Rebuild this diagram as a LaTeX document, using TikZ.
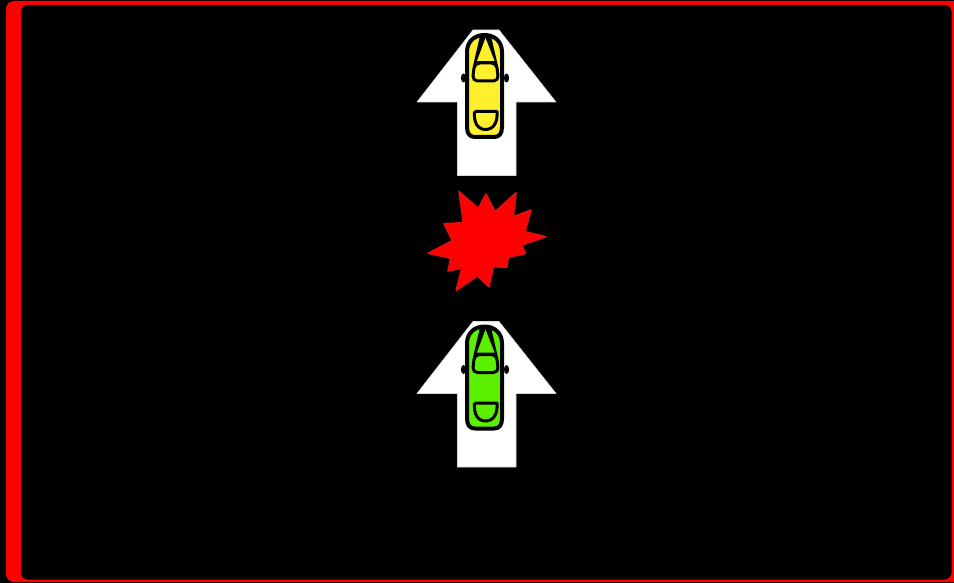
\documentclass[tikz,border=0pt]{standalone}
\definecolor{carYellow}{HTML}{FFF02E}
\definecolor{carGreen}{HTML}{5CF000}
\definecolor{starEdge}{HTML}{E01010}
\tikzset{
  carline/.style={draw=black,line width=3pt,line join=round},
  pics/carrow/.style={code={
    \fill[white,draw=black!15,line width=0.6pt,line join=round] (473,30) -- (499,30) -- (556,102) -- (516,102) -- (516,175.5)
      -- (457.5,175.5) -- (457.5,102) -- (417,102) -- cycle;
    \fill[black] (463.5,78) ellipse (2.6 and 4.5);
    \fill[black] (506.5,78) ellipse (2.6 and 4.5);
    \filldraw[fill=#1,carline,line width=4pt] (467,52) .. controls (467,41) and (475,35) .. (484.5,35)
      .. controls (494,35) and (502,41) .. (502,52) -- (502,127)
      .. controls (502,134) and (499,137) .. (494,137) -- (475,137)
      .. controls (470,137) and (467,134) .. (467,127) -- cycle;
    \fill[black] (480,36) -- (491,36) -- (498,66) -- (473,66) -- cycle;
    \fill[#1] (485.5,38) -- (494.5,61) -- (477,61) -- cycle;
    \filldraw[fill=#1,carline,rounded corners=5] (474.5,63) -- (496.5,63) -- (498.5,81) -- (472.5,81) -- cycle;
    \draw[carline] (474.5,111.5) -- (497,111.5) .. controls (498,123) and (493,129.5) .. (485.5,129.5)
      .. controls (478,129.5) and (473.5,123) .. (474.5,111.5);
  }}
}
\begin{document}
\begin{tikzpicture}[x=1pt,y=-1pt]
\useasboundingbox (0,0) rectangle (954,583);
\fill[black] (0,0) rectangle (954,583);
\fill[red] (954,1) [rounded corners=8] -- (6,1) -- (6,582) [sharp corners] -- (954,582) -- cycle;
\fill[black,rounded corners=7] (21,5) rectangle (951.5,579.5);
\filldraw[fill=red,draw=starEdge,line width=1.6pt,line join=round] (459,191.5) -- (478.3,208.3) -- (486,194) -- (495,211.7)
  -- (516,192.8) -- (513.3,216.7) -- (531,210) -- (525,231.7) -- (546,236.7) -- (521.7,245)
  -- (525.5,253.5) -- (508.3,257.3) -- (506.7,267.3) -- (493.3,266.7) -- (489,286.8) -- (477.3,276)
  -- (456.2,290.5) -- (461.7,268.3) -- (448,271) -- (450.7,258.3) -- (428.2,253.3) -- (452.3,240.7)
  -- (444,223.7) -- (463.3,222.7) -- cycle;
\pic at (0,0) {carrow=carYellow};
\pic at (0,291.5) {carrow=carGreen};
\end{tikzpicture}
\end{document}
